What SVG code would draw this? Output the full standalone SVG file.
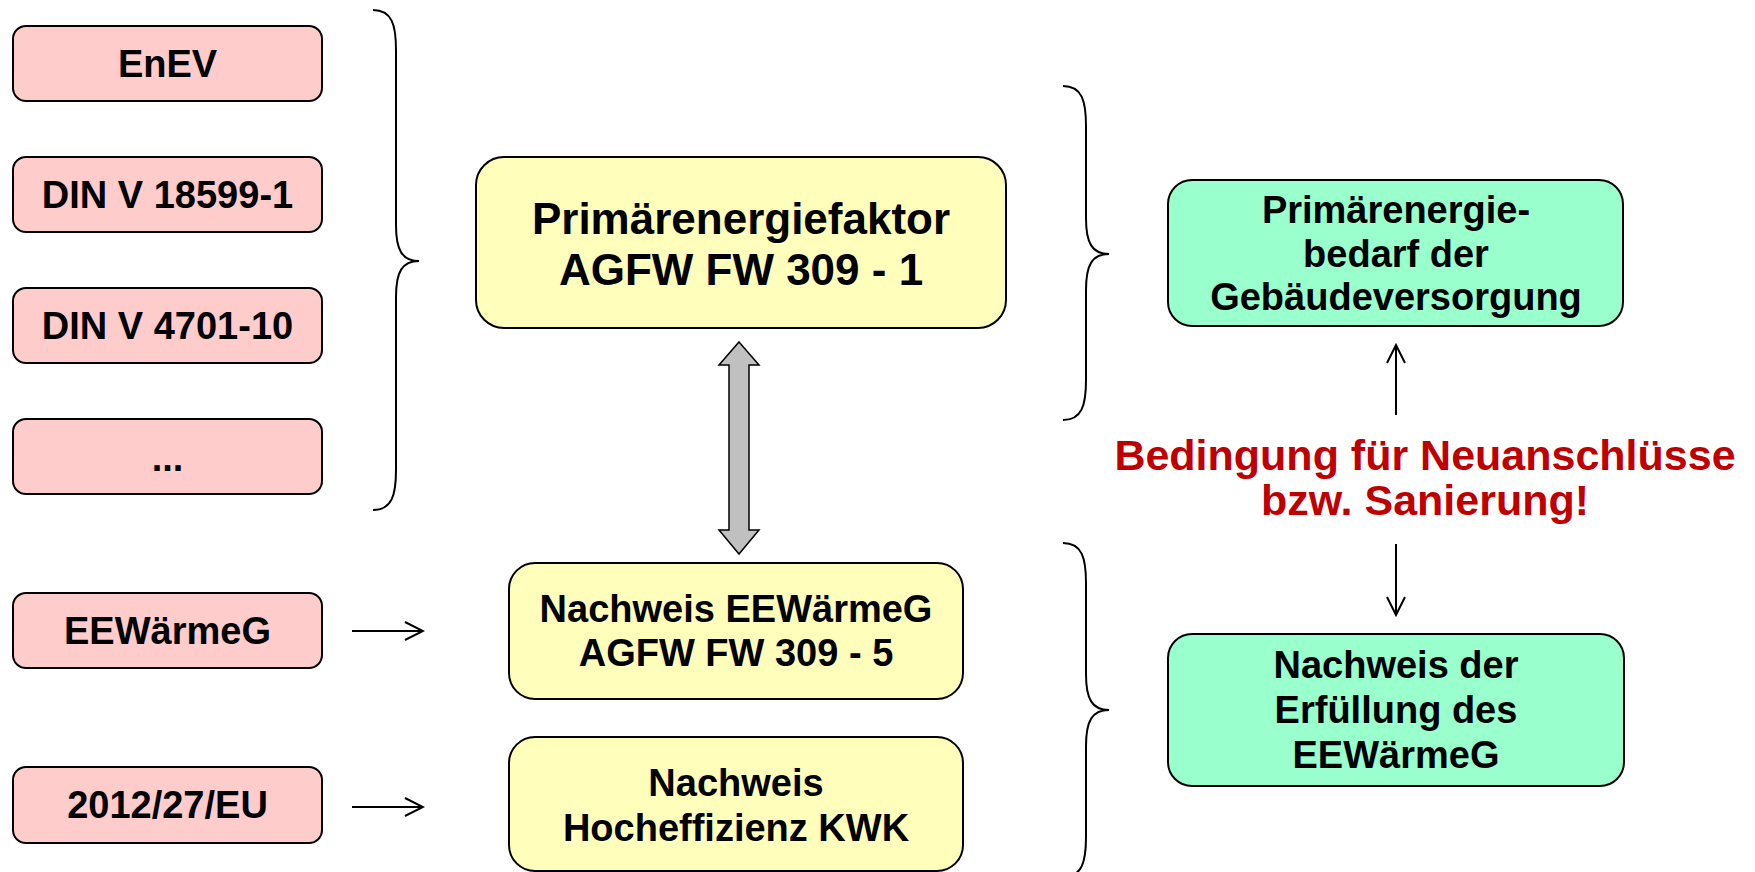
<svg xmlns="http://www.w3.org/2000/svg" width="1755" height="872" viewBox="0 0 1755 872">
<style>
.t{font-family:"Liberation Sans",Arial,sans-serif;font-weight:bold;fill:#000;text-anchor:middle}
.red{fill:#FFCCCC;stroke:#000;stroke-width:2}
.yel{fill:#FFFFBB;stroke:#000;stroke-width:2}
.grn{fill:#99FFCC;stroke:#000;stroke-width:2}
.brace{fill:none;stroke:#000;stroke-width:2}
.ln{fill:none;stroke:#000;stroke-width:2}
.warn{fill:#C00000}
</style>
<defs>
<marker id="open" markerUnits="userSpaceOnUse" markerWidth="22" markerHeight="22" viewBox="0 0 22 22" refX="20" refY="11" orient="auto">
<path d="M2,2 L20,11 L2,20" fill="none" stroke="#000" stroke-width="2"/>
</marker>
</defs>
<rect width="1755" height="872" fill="#fff"/>

<g id="enev"><rect class="red" x="13" y="26" width="309" height="75" rx="13"/><text class="t" x="167.5" y="77" font-size="38">EnEV</text></g>
<g id="din18599"><rect class="red" x="13" y="157" width="309" height="75" rx="13"/><text class="t" x="167.5" y="208" font-size="38">DIN V 18599-1</text></g>
<g id="din4701"><rect class="red" x="13" y="288" width="309" height="75" rx="13"/><text class="t" x="167.5" y="339" font-size="38">DIN V 4701-10</text></g>
<g id="dots"><rect class="red" x="13" y="419" width="309" height="75" rx="13"/><text class="t" x="167.5" y="471" font-size="38">...</text></g>
<g id="eewaermeg"><rect class="red" x="13" y="593" width="309" height="75" rx="13"/><text class="t" x="167.5" y="644" font-size="38">EEWärmeG</text></g>
<g id="eu2012"><rect class="red" x="13" y="767" width="309" height="76" rx="13"/><text class="t" x="167.5" y="818" font-size="38">2012/27/EU</text></g>

<g id="pef"><rect class="yel" x="476" y="157" width="530" height="171" rx="28"/>
<text class="t" x="741" y="234" font-size="44">Primärenergiefaktor</text>
<text class="t" x="741" y="285" font-size="44">AGFW FW 309 - 1</text></g>

<g id="nachweis-ee"><rect class="yel" x="509" y="563" width="454" height="136" rx="26"/>
<text class="t" x="736" y="622" font-size="38">Nachweis EEWärmeG</text>
<text class="t" x="736" y="666" font-size="38">AGFW FW 309 - 5</text></g>

<g id="nachweis-kwk"><rect class="yel" x="509" y="737" width="454" height="134" rx="26"/>
<text class="t" x="736" y="796" font-size="38">Nachweis</text>
<text class="t" x="736" y="841" font-size="38">Hocheffizienz KWK</text></g>

<g id="bedarf"><rect class="grn" x="1168" y="180" width="455" height="146" rx="24"/>
<text class="t" x="1396" y="223" font-size="38">Primärenergie-</text>
<text class="t" x="1396" y="267" font-size="38">bedarf der</text>
<text class="t" x="1396" y="310" font-size="38">Gebäudeversorgung</text></g>

<g id="erfuellung"><rect class="grn" x="1168" y="634" width="456" height="152" rx="24"/>
<text class="t" x="1396" y="678" font-size="38">Nachweis der</text>
<text class="t" x="1396" y="723" font-size="38">Erfüllung des</text>
<text class="t" x="1396" y="768" font-size="38">EEWärmeG</text></g>

<g id="bedingung">
<text class="t warn" x="1425" y="470" font-size="43" style="fill:#C00000">Bedingung für Neuanschlüsse</text>
<text class="t warn" x="1425" y="515" font-size="43" style="fill:#C00000">bzw. Sanierung!</text>
</g>

<g id="connectors">
<path class="brace" d="M373,10 C392,10 396,25 396,50 L396,225 C396,250 402,261 419,261 C402,261 396,272 396,297 L396,470 C396,495 392,510 373,510"/>
<path class="brace" d="M1063,86 C1082,86 1086,101 1086,126 L1086,218 C1086,243 1092,254 1109,254 C1092,254 1086,265 1086,290 L1086,380 C1086,405 1082,420 1063,420"/>
<path class="brace" d="M1063,543 C1082,543 1086,558 1086,583 L1086,674 C1086,699 1092,710 1109,710 C1092,710 1086,721 1086,746 L1086,837 C1086,862 1082,877 1063,877"/>
<polygon points="739,342 759,365 749,365 749,530 759,530 739,554 719,530 729,530 729,365 719,365" fill="#C0C0C0" stroke="#000" stroke-width="1.5"/>
<line class="ln" x1="352" y1="631" x2="423" y2="631" marker-end="url(#open)"/>
<line class="ln" x1="352" y1="807" x2="423" y2="807" marker-end="url(#open)"/>
<line class="ln" x1="1396" y1="415" x2="1396" y2="345" marker-end="url(#open)"/>
<line class="ln" x1="1396" y1="544" x2="1396" y2="615" marker-end="url(#open)"/>
</g>
</svg>
